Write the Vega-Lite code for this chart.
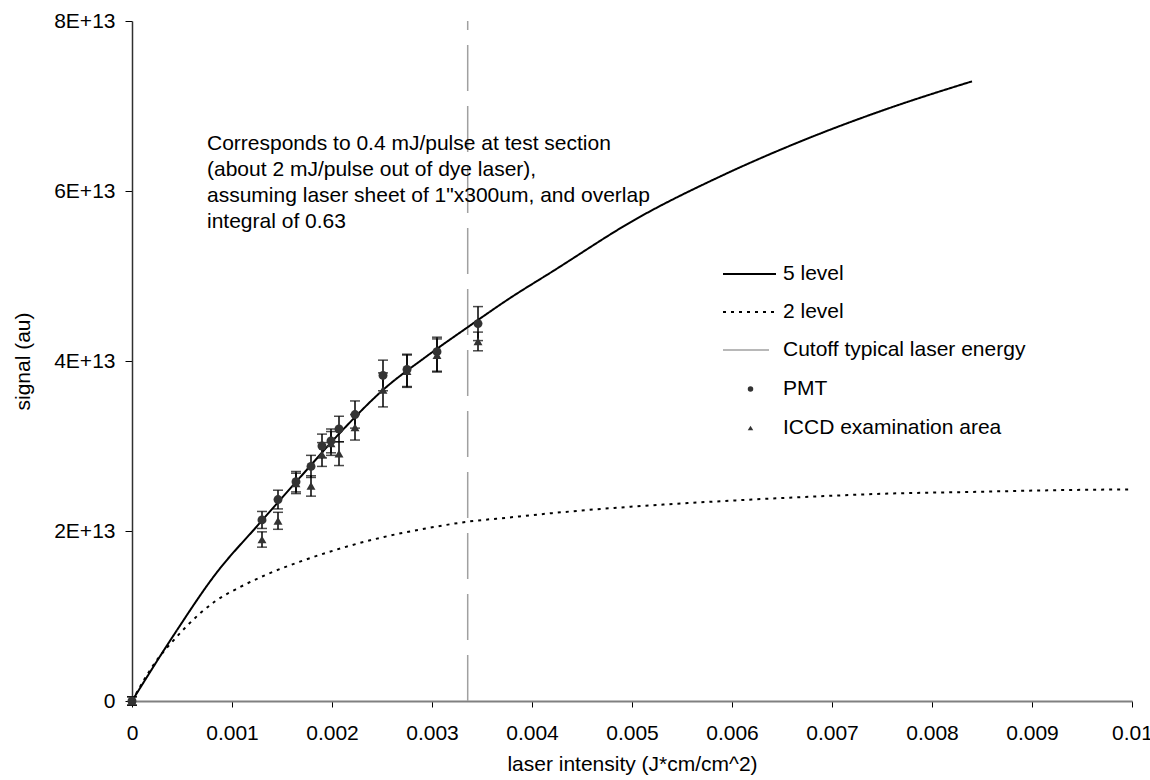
{
  "$schema": "https://vega.github.io/schema/vega-lite/v6.json",
  "width": 1000,
  "height": 680,
  "autosize": {"type": "none"},
  "padding": {"left": 132, "top": 21, "right": 18, "bottom": 79},
  "background": "white",
  "config": {
    "font": "Liberation Sans",
    "view": {"stroke": null},
    "axis": {"grid": false, "labelFont": "Liberation Sans", "titleFont": "Liberation Sans", "labelColor": "black", "titleColor": "black", "titleFontWeight": "normal"},
    "legend": {"labelFont": "Liberation Sans", "labelFontSize": 21, "labelColor": "black", "labelLimit": 400, "padding": 0, "title": null}
  },
  "datasets": {
    "curves": [
      {"series": "5 level", "x": 0, "y": 0},
      {"series": "5 level", "x": 0.00042, "y": 0.78e13},
      {"series": "5 level", "x": 0.00084, "y": 1.50e13},
      {"series": "5 level", "x": 0.00126, "y": 2.07e13},
      {"series": "5 level", "x": 0.00168, "y": 2.63e13},
      {"series": "5 level", "x": 0.0021, "y": 3.18e13},
      {"series": "5 level", "x": 0.00252, "y": 3.67e13},
      {"series": "5 level", "x": 0.00294, "y": 4.05e13},
      {"series": "5 level", "x": 0.00336, "y": 4.40e13},
      {"series": "5 level", "x": 0.00378, "y": 4.74e13},
      {"series": "5 level", "x": 0.0042, "y": 5.05e13},
      {"series": "5 level", "x": 0.00504, "y": 5.67e13},
      {"series": "5 level", "x": 0.00588, "y": 6.17e13},
      {"series": "5 level", "x": 0.00672, "y": 6.60e13},
      {"series": "5 level", "x": 0.00756, "y": 6.97e13},
      {"series": "5 level", "x": 0.0084, "y": 7.29e13},
      {"series": "2 level", "x": 0, "y": 0},
      {"series": "2 level", "x": 0.00026, "y": 0.50e13},
      {"series": "2 level", "x": 0.00042, "y": 0.72e13},
      {"series": "2 level", "x": 0.00068, "y": 1.03e13},
      {"series": "2 level", "x": 0.00084, "y": 1.18e13},
      {"series": "2 level", "x": 0.00108, "y": 1.34e13},
      {"series": "2 level", "x": 0.00135, "y": 1.49e13},
      {"series": "2 level", "x": 0.00168, "y": 1.64e13},
      {"series": "2 level", "x": 0.0021, "y": 1.80e13},
      {"series": "2 level", "x": 0.00252, "y": 1.93e13},
      {"series": "2 level", "x": 0.00294, "y": 2.03e13},
      {"series": "2 level", "x": 0.00336, "y": 2.11e13},
      {"series": "2 level", "x": 0.00378, "y": 2.16e13},
      {"series": "2 level", "x": 0.0042, "y": 2.21e13},
      {"series": "2 level", "x": 0.00504, "y": 2.29e13},
      {"series": "2 level", "x": 0.00588, "y": 2.35e13},
      {"series": "2 level", "x": 0.00672, "y": 2.40e13},
      {"series": "2 level", "x": 0.00756, "y": 2.44e13},
      {"series": "2 level", "x": 0.0084, "y": 2.46e13},
      {"series": "2 level", "x": 0.00924, "y": 2.48e13},
      {"series": "2 level", "x": 0.01, "y": 2.49e13}
    ],
    "measured": [
      {"series": "PMT", "x": 0, "y": 0, "lo": -0.05e13, "hi": 0.05e13},
      {"series": "PMT", "x": 0.0013, "y": 2.13e13, "lo": 2.03e13, "hi": 2.23e13},
      {"series": "PMT", "x": 0.00146, "y": 2.37e13, "lo": 2.26e13, "hi": 2.48e13},
      {"series": "PMT", "x": 0.00164, "y": 2.58e13, "lo": 2.46e13, "hi": 2.70e13},
      {"series": "PMT", "x": 0.00179, "y": 2.76e13, "lo": 2.63e13, "hi": 2.89e13},
      {"series": "PMT", "x": 0.0019, "y": 3.00e13, "lo": 2.86e13, "hi": 3.14e13},
      {"series": "PMT", "x": 0.00199, "y": 3.06e13, "lo": 2.92e13, "hi": 3.20e13},
      {"series": "PMT", "x": 0.00207, "y": 3.20e13, "lo": 3.05e13, "hi": 3.35e13},
      {"series": "PMT", "x": 0.00223, "y": 3.37e13, "lo": 3.21e13, "hi": 3.53e13},
      {"series": "PMT", "x": 0.00251, "y": 3.83e13, "lo": 3.65e13, "hi": 4.01e13},
      {"series": "PMT", "x": 0.00275, "y": 3.90e13, "lo": 3.70e13, "hi": 4.08e13},
      {"series": "PMT", "x": 0.00305, "y": 4.11e13, "lo": 3.88e13, "hi": 4.28e13},
      {"series": "PMT", "x": 0.00346, "y": 4.44e13, "lo": 4.24e13, "hi": 4.64e13},
      {"series": "ICCD examination area", "x": 0, "y": 0, "lo": -0.05e13, "hi": 0.05e13},
      {"series": "ICCD examination area", "x": 0.0013, "y": 1.90e13, "lo": 1.81e13, "hi": 1.99e13},
      {"series": "ICCD examination area", "x": 0.00146, "y": 2.12e13, "lo": 2.02e13, "hi": 2.22e13},
      {"series": "ICCD examination area", "x": 0.00164, "y": 2.56e13, "lo": 2.44e13, "hi": 2.68e13},
      {"series": "ICCD examination area", "x": 0.00179, "y": 2.53e13, "lo": 2.41e13, "hi": 2.65e13},
      {"series": "ICCD examination area", "x": 0.0019, "y": 2.90e13, "lo": 2.76e13, "hi": 3.04e13},
      {"series": "ICCD examination area", "x": 0.00199, "y": 3.03e13, "lo": 2.89e13, "hi": 3.17e13},
      {"series": "ICCD examination area", "x": 0.00207, "y": 2.91e13, "lo": 2.77e13, "hi": 3.05e13},
      {"series": "ICCD examination area", "x": 0.00223, "y": 3.22e13, "lo": 3.07e13, "hi": 3.37e13},
      {"series": "ICCD examination area", "x": 0.00251, "y": 3.66e13, "lo": 3.46e13, "hi": 3.86e13},
      {"series": "ICCD examination area", "x": 0.00275, "y": 3.88e13, "lo": 3.69e13, "hi": 4.07e13},
      {"series": "ICCD examination area", "x": 0.00305, "y": 4.07e13, "lo": 3.87e13, "hi": 4.26e13},
      {"series": "ICCD examination area", "x": 0.00346, "y": 4.23e13, "lo": 4.12e13, "hi": 4.34e13}
    ],
    "cutoff": [
      {"series": "Cutoff typical laser energy", "x": 0.003357, "y0": 0, "y1": 8e13}
    ],
    "note": [
      {"x": 0.00075, "y": 6.68e13, "label": "Corresponds to 0.4 mJ/pulse at test section\n(about 2 mJ/pulse out of dye laser),\nassuming laser sheet of 1\"x300um, and overlap\nintegral of 0.63"}
    ]
  },
  "layer": [
    {
      "data": {"name": "cutoff"},
      "mark": {"type": "rule", "strokeWidth": 1.5, "strokeDash": [46, 15]},
      "encoding": {
        "x": {"field": "x", "type": "quantitative", "title": "laser intensity (J*cm/cm^2)", "scale": {"domain": [0, 0.01], "nice": false, "zero": false},
          "axis": {"values": [0, 0.001, 0.002, 0.003, 0.004, 0.005, 0.006, 0.007, 0.008, 0.009, 0.01], "format": "~f",
            "domainColor": "#808080", "domainWidth": 2, "tickColor": "black", "tickSize": 6, "tickWidth": 1,
            "labelFontSize": 21, "labelPadding": 15, "titleFontSize": 21, "titlePadding": 10, "labelFlush": false}},
        "y": {"field": "y0", "type": "quantitative", "title": "signal (au)", "scale": {"domain": [0, 8e13], "nice": false},
          "axis": {"values": [0, 2e13, 4e13, 6e13, 8e13], "labelExpr": "datum.value == 0 ? '0' : format(datum.value / 1e13, 'd') + 'E+13'",
            "domainColor": "#303030", "domainWidth": 1.5, "tickColor": "black", "tickSize": 7, "tickWidth": 1,
            "labelFontSize": 21, "labelPadding": 10, "titleFontSize": 21, "titlePadding": 20}},
        "y2": {"field": "y1"},
        "color": {"field": "series", "type": "nominal", "scale": {"domain": ["Cutoff typical laser energy"], "range": ["#a0a0a0"]},
          "legend": {"orient": "none", "legendX": 590, "legendY": 301.5, "symbolType": "stroke", "symbolSize": 2809, "symbolStrokeWidth": 1.5, "symbolDash": [46, 15], "labelOffset": 6}}
      }
    },
    {
      "data": {"name": "curves"},
      "mark": {"type": "line", "color": "black", "strokeWidth": 2, "interpolate": "monotone"},
      "encoding": {
        "x": {"field": "x", "type": "quantitative", "title": "laser intensity (J*cm/cm^2)"},
        "y": {"field": "y", "type": "quantitative", "title": "signal (au)"},
        "detail": {"field": "series"},
        "strokeDash": {"field": "series", "type": "nominal", "sort": null, "scale": {"domain": ["5 level", "2 level"], "range": [[1, 0], [3, 5]]},
          "legend": {"orient": "none", "legendX": 590, "legendY": 225.5, "symbolType": "stroke", "symbolSize": 2809, "symbolStrokeWidth": 2, "symbolStrokeColor": "black", "rowPadding": -17, "labelOffset": 6}}
      }
    },
    {
      "data": {"name": "measured"},
      "mark": {"type": "errorbar", "ticks": {"size": 10, "thickness": 1.5, "color": "black"}, "rule": {"strokeWidth": 1.5, "color": "black"}},
      "encoding": {
        "x": {"field": "x", "type": "quantitative", "title": "laser intensity (J*cm/cm^2)"},
        "y": {"field": "lo", "type": "quantitative", "title": "signal (au)"},
        "y2": {"field": "hi"}
      }
    },
    {
      "data": {"name": "measured"},
      "mark": {"type": "point", "filled": true, "color": "#333333", "opacity": 1, "size": 80},
      "encoding": {
        "x": {"field": "x", "type": "quantitative", "title": "laser intensity (J*cm/cm^2)"},
        "y": {"field": "y", "type": "quantitative", "title": "signal (au)"},
        "shape": {
          "field": "series", "type": "nominal",
          "scale": {"domain": ["PMT", "ICCD examination area"], "range": ["circle", "triangle-up"]},
          "legend": {"orient": "none", "legendX": 608, "legendY": 357.5, "symbolSize": 30, "symbolFillColor": "#333333", "symbolOpacity": 1, "rowPadding": 17, "labelOffset": 22}
        }
      }
    },
    {
      "data": {"name": "note"},
      "mark": {"type": "text", "align": "left", "baseline": "top", "fontSize": 21, "lineHeight": 26, "lineBreak": "\n", "font": "Liberation Sans", "color": "black"},
      "encoding": {
        "x": {"field": "x", "type": "quantitative"},
        "y": {"field": "y", "type": "quantitative"},
        "text": {"field": "label"}
      }
    }
  ]
}
